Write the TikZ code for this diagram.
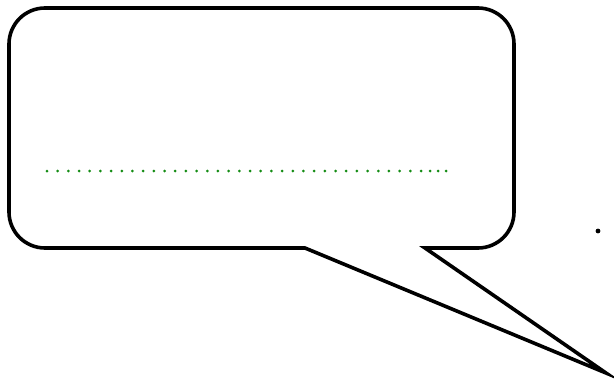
\documentclass[tikz,border=0pt]{standalone}
\definecolor{dotgreen}{RGB}{20,140,20}
\tikzset{
  bubble/.style={line width=3.6pt, line join=miter, draw=black, fill=white},
  gdot/.style={fill=dotgreen, draw=none},
}
\begin{document}
\begin{tikzpicture}[x=1pt,y=-1pt]
\useasboundingbox (0,0) rectangle (614,380);
\draw[bubble, rounded corners=36pt] (305,248) -- (9,248) -- (9,8) -- (514,8) -- (514,248) [sharp corners] -- (425,248) -- (606,373) -- cycle;
\foreach \i in {0,...,35} {
  \fill[gdot] ({47+10.686*\i},171) circle (1.5pt);
}
\foreach \x in {430,438,446} {
  \fill[gdot] (\x,171) circle (1.5pt);
}
\fill (598,231) circle (2.4pt);
\end{tikzpicture}
\end{document}
